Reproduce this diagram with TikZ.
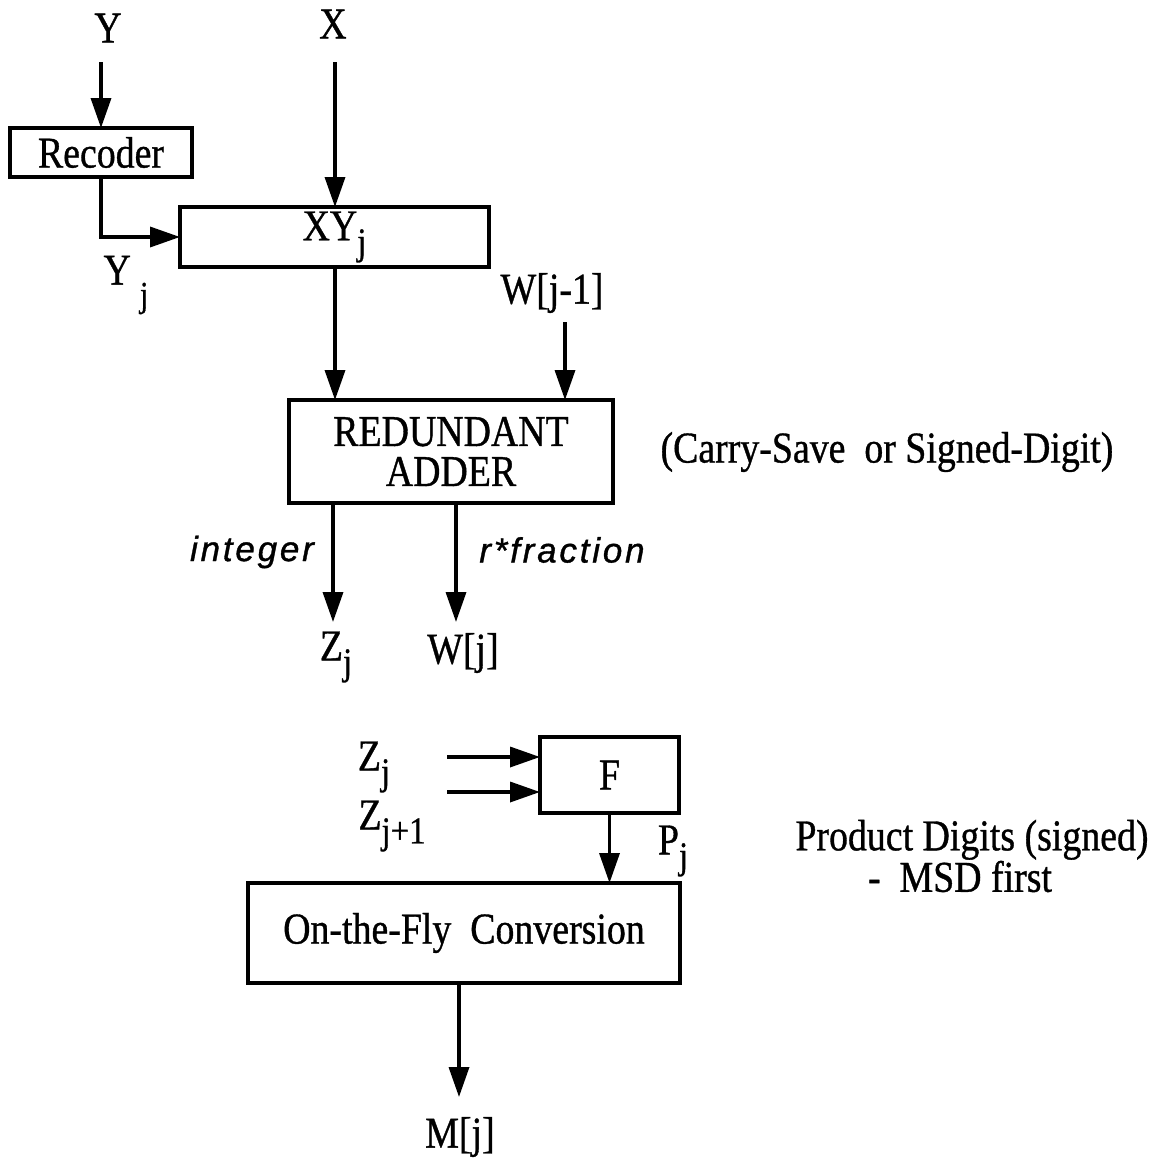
\documentclass[tikz,border=0pt]{standalone}
\usepackage{fontspec}
\setmainfont{Liberation Serif}[FakeStretch=0.86,FakeBold=0.8]
\newfontfamily\lblfont{Liberation Sans}[LetterSpace=8,FakeBold=1]
\usetikzlibrary{arrows.meta}
\newcommand\subj[1]{\raisebox{-0.32em}{\fontsize{38}{40}\selectfont #1}}
\begin{document}
\begin{tikzpicture}[x=1pt,y=-1pt,
  every node/.style={font=\fontsize{44}{40}\selectfont, inner sep=0pt, outer sep=0pt},
  blk/.style={draw, line width=3.5pt, inner sep=0pt},
  arr/.style={line width=3.5pt, -{Triangle[width=20pt,length=30pt]}},
  wire/.style={line width=3.5pt},
  lbl/.style={font=\fontsize{35}{40}\lblfont\itshape}]
\useasboundingbox (0,0) rectangle (1159,1159);

% blocks
\node[blk, minimum width=182pt, minimum height=49pt] (rec) at (101,152.5) {Recoder};
\node[blk, minimum width=309pt, minimum height=60pt] (xy) at (334.5,237) {XY\subj{j}};
\node[blk, minimum width=324pt, minimum height=103pt, align=center] (add) at (451,451.5) {REDUNDANT\\ADDER};
\node[blk, minimum width=139pt, minimum height=76pt] (f) at (609.5,775) {F};
\node[blk, minimum width=432pt, minimum height=100pt] (conv) at (464,933) {On-the-Fly\ \ Conversion};

% labels
\node (ylab) at (108,28) {Y};
\node (xlab) at (333,24) {X};
\node (yjlab) at (126,285) {Y\hspace{9pt}\raisebox{-0.5em}{\fontsize{36}{40}\selectfont j}};
\node (wprevlab) at (552,293) {W[j-1]};
\node (cslab) at (887,452) {(Carry-Save\ \ or Signed-Digit)};
\node[lbl] (intlab) at (252,552) {integer};
\node[lbl] (fraclab) at (562,550) {r*fraction};
\node (zjlab) at (336,657) {Z\subj{j}};
\node (wjlab) at (463,653) {W[j]};
\node (zj2lab) at (374,767) {Z\subj{j}};
\node (zj3lab) at (392,826) {Z\subj{j+1}};
\node (pjlab) at (673,851) {P\subj{j}};
\node[align=center] (pdlab) at (972,856) {Product Digits (signed)\\-\ \ MSD first\hspace*{24pt}};
\node (mjlab) at (460,1137) {M[j]};

% connector end points
\coordinate (yin) at (101,62);
\coordinate (xin) at (335,62);
\coordinate (wprev) at (565,322);
\coordinate (zend) at (333,622);
\coordinate (wend) at (456,622);
\coordinate (zin1) at (447,757);
\coordinate (zin2) at (447,792);
\coordinate (mend) at (459,1097);

% connectors
\draw[arr] (yin) -- (rec.north);
\draw[arr] (xin) -- (xin |- xy.north);
\draw[arr] (rec.south) |- (xy.west);
\draw[arr] (xin |- xy.south) -- (xin |- add.north);
\draw[arr] (wprev) -- (wprev |- add.north);
\draw[arr] (zend |- add.south) -- (zend);
\draw[arr] (wend |- add.south) -- (wend);
\draw[arr] (zin1) -- (zin1 -| f.west);
\draw[arr] (zin2) -- (zin2 -| f.west);
\draw[arr] (f.south) -- (f.south |- conv.north);
\draw[arr] (mend |- conv.south) -- (mend);
\end{tikzpicture}
\end{document}
